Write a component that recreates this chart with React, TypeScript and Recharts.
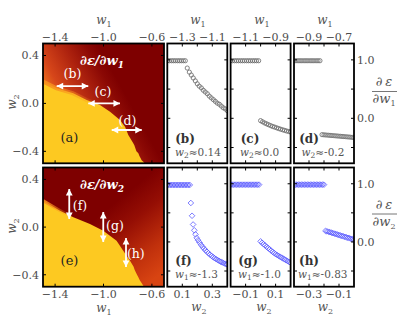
import React from 'react';
import { ComposedChart, Area, Scatter, XAxis, YAxis } from 'recharts';

const W = 399;
const H = 332;
const SERIF = "'DejaVu Serif', 'Liberation Serif', serif";
const TICK_FILL = '#4d4d4d';
const LABEL_FILL = '#555555';
const TL = 3;
const YELLOW = '#fdc921';

// ---------------- data ----------------
const heatW1Range = [-1.5, -0.5];
const heatW2Range = [-0.5, 0.5];
const heatW1Ticks = [-1.4, -1.0, -0.6];
const heatW2Ticks = [0.4, 0.0, -0.4];

// boundary of the yellow (value = 1) region, ∂ε/∂w1 map
const edgeA_w1 = [-1.5, -1.387, -1.25, -1.139, -1.029, -0.946, -0.864, -0.822, -0.795, -0.754, -0.745, -0.738, -0.728, -0.712, -0.703, -0.694, -0.685, -0.671, -0.66];
const edgeA_w2 = [0.183, 0.126, 0.084, 0.028, -0.013, -0.069, -0.139, -0.194, -0.264, -0.333, -0.35, -0.37, -0.4, -0.417, -0.44, -0.455, -0.475, -0.487, -0.5];
// boundary of the yellow region, ∂ε/∂w2 map
const edgeE_w1 = [-1.5, -1.359, -1.249, -1.112, -1.002, -0.892, -0.837, -0.781, -0.752, -0.742, -0.726, -0.712, -0.7, -0.685, -0.671, -0.665];
const edgeE_w2 = [0.222, 0.138, 0.082, 0.026, -0.03, -0.114, -0.198, -0.282, -0.33, -0.36, -0.394, -0.42, -0.445, -0.47, -0.492, -0.5];

// arrows marking the slices
const arrowB = { w1: [-1.387, -1.126], w2: [0.145, 0.145] };
const arrowC = { w1: [-1.126, -0.864], w2: [0.0, 0.0] };
const arrowD = { w1: [-0.932, -0.684], w2: [-0.222, -0.222] };
const arrowF = { w1: [-1.283, -1.283], w2: [0.32, 0.068] };
const arrowG = { w1: [-1.002, -1.002], w2: [0.127, -0.125] };
const arrowH = { w1: [-0.814, -0.814], w2: [-0.091, -0.335] };

const sliceYTicks = [-0.5, 0.0, 0.5, 1.0];
const sliceYLabels = [0.0, 1.0];
const sliceYRange = [-0.77, 1.28];

const sliceB_ticks = [-1.3, -1.2, -1.1];
const sliceB_labels = [-1.3, -1.1];
const sliceC_ticks = [-1.1, -1.0, -0.9];
const sliceC_labels = [-1.1, -0.9];
const sliceD_ticks = [-0.9, -0.8, -0.7];
const sliceD_labels = [-0.9, -0.7];
const sliceF_ticks = [0.1, 0.2, 0.3];
const sliceF_labels = [0.1, 0.3];
const sliceG_ticks = [-0.1, 0.0, 0.1];
const sliceG_labels = [-0.1, 0.1];
const sliceH_ticks = [-0.3, -0.2, -0.1];
const sliceH_labels = [-0.3, -0.1];

const sliceB_w1 = [-1.4, -1.387, -1.373, -1.36, -1.347, -1.333, -1.32, -1.307, -1.293, -1.28, -1.267, -1.253, -1.24, -1.227, -1.213, -1.2, -1.187, -1.173, -1.16, -1.147, -1.133, -1.12, -1.107, -1.093, -1.08, -1.067, -1.053, -1.04, -1.027, -1.013, -1.0];
const sliceB_val = [0.985, 0.985, 0.985, 0.985, 0.985, 0.985, 0.985, 0.985, 0.985, 0.985, 0.86, 0.79, 0.74, 0.69, 0.64, 0.59, 0.55, 0.52, 0.48, 0.45, 0.42, 0.38, 0.35, 0.32, 0.29, 0.26, 0.24, 0.21, 0.18, 0.16, 0.13];

const sliceC_w1 = [-1.2, -1.187, -1.173, -1.16, -1.147, -1.133, -1.12, -1.107, -1.093, -1.08, -1.067, -1.053, -1.04, -1.027, -1.013, -1.0, -0.987, -0.973, -0.96, -0.947, -0.933, -0.92, -0.907, -0.893, -0.88, -0.867, -0.853, -0.84, -0.827, -0.813, -0.8];
const sliceC_val = [0.985, 0.985, 0.985, 0.985, 0.985, 0.985, 0.985, 0.985, 0.985, 0.985, 0.985, 0.985, 0.985, 0.985, 0.985, -0.04, -0.06, -0.08, -0.095, -0.11, -0.125, -0.14, -0.15, -0.163, -0.175, -0.186, -0.197, -0.207, -0.217, -0.226, -0.235];

const sliceD_w1 = [-1.0, -0.987, -0.973, -0.96, -0.947, -0.933, -0.92, -0.907, -0.893, -0.88, -0.867, -0.853, -0.84, -0.827, -0.813, -0.8, -0.787, -0.773, -0.76, -0.747, -0.733, -0.72, -0.707, -0.693, -0.68, -0.667, -0.653, -0.64, -0.627, -0.613, -0.6];
const sliceD_val = [0.985, 0.985, 0.985, 0.985, 0.985, 0.985, 0.985, 0.985, 0.985, 0.985, 0.985, 0.985, 0.985, 0.985, -0.28, -0.283, -0.286, -0.289, -0.292, -0.295, -0.298, -0.301, -0.304, -0.307, -0.31, -0.313, -0.316, -0.319, -0.322, -0.326, -0.33];

const sliceF_w2 = [0.0, 0.01, 0.02, 0.03, 0.04, 0.05, 0.06, 0.07, 0.08, 0.09, 0.1, 0.11, 0.12, 0.13, 0.14, 0.15, 0.157, 0.165, 0.172, 0.18, 0.188, 0.196, 0.205, 0.215, 0.225, 0.235, 0.245, 0.255, 0.265, 0.275, 0.285, 0.295, 0.305, 0.315, 0.325, 0.335, 0.345, 0.355, 0.365, 0.375, 0.385, 0.395, 0.4];
const sliceF_val = [0.98, 0.98, 0.98, 0.98, 0.98, 0.98, 0.98, 0.98, 0.98, 0.98, 0.98, 0.98, 0.98, 0.98, 0.98, 0.98, 0.67, 0.45, 0.3, 0.2, 0.13, 0.07, 0.03, -0.01, -0.05, -0.085, -0.115, -0.145, -0.17, -0.195, -0.22, -0.24, -0.26, -0.28, -0.295, -0.31, -0.325, -0.34, -0.35, -0.365, -0.375, -0.385, -0.39];

const sliceG_w2 = [-0.2, -0.19, -0.18, -0.17, -0.16, -0.15, -0.14, -0.13, -0.12, -0.11, -0.1, -0.09, -0.08, -0.07, -0.06, -0.05, -0.04, -0.03, -0.02, -0.01, 0.0, 0.01, 0.02, 0.03, 0.04, 0.05, 0.06, 0.07, 0.08, 0.09, 0.1, 0.11, 0.12, 0.13, 0.14, 0.15, 0.16, 0.17, 0.18, 0.19, 0.2];
const sliceG_val = [0.985, 0.985, 0.985, 0.985, 0.985, 0.985, 0.985, 0.985, 0.985, 0.985, 0.985, 0.985, 0.985, 0.985, 0.985, 0.985, 0.985, 0.985, 0.985, 0.985, 0.01, -0.015, -0.04, -0.06, -0.085, -0.105, -0.125, -0.15, -0.17, -0.19, -0.21, -0.225, -0.24, -0.255, -0.27, -0.285, -0.3, -0.315, -0.33, -0.345, -0.36];

const sliceH_w2 = [-0.4, -0.39, -0.38, -0.37, -0.36, -0.35, -0.34, -0.33, -0.32, -0.31, -0.3, -0.29, -0.28, -0.27, -0.26, -0.25, -0.24, -0.23, -0.22, -0.21, -0.2, -0.19, -0.18, -0.17, -0.16, -0.15, -0.14, -0.13, -0.12, -0.11, -0.1, -0.09, -0.08, -0.07, -0.06, -0.05, -0.04, -0.03, -0.02, -0.01, 0.0];
const sliceH_val = [0.985, 0.985, 0.985, 0.985, 0.985, 0.985, 0.985, 0.985, 0.985, 0.985, 0.985, 0.985, 0.985, 0.985, 0.985, 0.985, 0.985, 0.985, 0.985, 0.985, 0.985, 0.19, 0.182, 0.175, 0.167, 0.159, 0.151, 0.143, 0.135, 0.127, 0.119, 0.111, 0.103, 0.095, 0.087, 0.079, 0.071, 0.063, 0.055, 0.047, 0.04];

// ---------------- helpers ----------------
type Box = { left: number; right: number; top: number; bottom: number };
const BOX_A: Box = { left: 43, right: 164, top: 43.5, bottom: 163.3 };
const BOX_E: Box = { left: 43, right: 164, top: 167.5, bottom: 286.7 };
const COLS = [
  { left: 167.3, right: 227.3 },
  { left: 230.6, right: 290.6 },
  { left: 294, right: 354 },
];
const TOP = { top: 43.5, bottom: 163.3 };
const BOT = { top: 167.5, bottom: 286.7 };
const BOX_B: Box = { ...COLS[0], ...TOP };
const BOX_C: Box = { ...COLS[1], ...TOP };
const BOX_D: Box = { ...COLS[2], ...TOP };
const BOX_F: Box = { ...COLS[0], ...BOT };
const BOX_G: Box = { ...COLS[1], ...BOT };
const BOX_H: Box = { ...COLS[2], ...BOT };

const zip = (xs: number[], ys: number[]) => xs.map((x, i) => ({ x, y: ys[i] }));
const fmt = (v: number) => {
  const s = Math.abs(v).toFixed(1);
  return v < -1e-9 ? '\u2212' + s : s;
};
const has = (arr: number[], v: number) => arr.some((a) => Math.abs(a - v) < 1e-9);

const arrowData = (a: { w1: number[]; w2: number[] }) => {
  const horiz = a.w2[0] === a.w2[1];
  return [
    { x: a.w1[0], y: a.w2[0], dir: horiz ? 'left' : 'up' },
    { x: a.w1[1], y: a.w2[1], dir: horiz ? 'right' : 'down' },
  ];
};

const arrowHead = (p: any) => {
  const { cx, cy } = p;
  const dir = p.payload?.dir;
  const L = 6.5;
  const Wd = 3.4;
  let pts: number[][];
  if (dir === 'left') pts = [[cx, cy], [cx + L, cy - Wd], [cx + L, cy + Wd]];
  else if (dir === 'right') pts = [[cx, cy], [cx - L, cy - Wd], [cx - L, cy + Wd]];
  else if (dir === 'up') pts = [[cx, cy], [cx - Wd, cy + L], [cx + Wd, cy + L]];
  else pts = [[cx, cy], [cx - Wd, cy - L], [cx + Wd, cy - L]];
  return <polygon points={pts.map((q) => q.join(',')).join(' ')} fill="#ffffff" />;
};

const circleShape = (p: any) => (
  <circle cx={p.cx} cy={p.cy} r={2.1} fill="none" stroke="#6e6e6e" strokeWidth={0.85} />
);
const diamondShape = (p: any) => {
  const r = 2.8;
  return (
    <path
      d={`M${p.cx},${p.cy - r}L${p.cx + r},${p.cy}L${p.cx},${p.cy + r}L${p.cx - r},${p.cy}Z`}
      fill="none"
      stroke="#5a5aff"
      strokeWidth={0.8}
    />
  );
};

type PanelProps = {
  box: Box;
  xDomain: number[];
  yDomain: number[];
  xTicks: number[];
  xLabels: number[];
  xSide: 'top' | 'bottom';
  yTicks: number[];
  yLabels: number[];
  ySide: 'left' | 'right' | 'none';
  children?: React.ReactNode;
};

function Panel({ box, xDomain, yDomain, xTicks, xLabels, xSide, yTicks, yLabels, ySide, children }: PanelProps) {
  // axes take 1px each (a 0-sized axis is not drawn), so the margins leave room for that pixel
  const margin = {
    top: xSide === 'top' ? box.top - 1 : box.top,
    bottom: xSide === 'bottom' ? H - box.bottom - 1 : H - box.bottom,
    left: box.left - 1,
    right: W - box.right,
  };
  const xTick = (p: any) => {
    const v = p.payload.value;
    const x = p.x;
    return (
      <g>
        <line x1={x} x2={x} y1={box.top} y2={box.top + TL} stroke="#000" strokeWidth={1} />
        <line x1={x} x2={x} y1={box.bottom} y2={box.bottom - TL} stroke="#000" strokeWidth={1} />
        {has(xLabels, v) && (
          <text
            x={x}
            y={xSide === 'top' ? box.top - 3 : box.bottom + 11}
            textAnchor="middle"
            fontFamily={SERIF}
            fontSize={11}
            fill={TICK_FILL}
          >
            {fmt(v)}
          </text>
        )}
      </g>
    );
  };
  const yTick = (p: any) => {
    const v = p.payload.value;
    const y = p.y;
    return (
      <g>
        <line x1={box.left} x2={box.left + TL} y1={y} y2={y} stroke="#000" strokeWidth={1} />
        <line x1={box.right} x2={box.right - TL} y1={y} y2={y} stroke="#000" strokeWidth={1} />
        {ySide !== 'none' && has(yLabels, v) && (
          <text
            x={ySide === 'left' ? box.left - 4 : box.right + 3}
            y={y + 4}
            textAnchor={ySide === 'left' ? 'end' : 'start'}
            fontFamily={SERIF}
            fontSize={11}
            fill={TICK_FILL}
          >
            {fmt(v)}
          </text>
        )}
      </g>
    );
  };
  return (
    <div style={{ position: 'absolute', left: 0, top: 0 }}>
      <ComposedChart width={W} height={H} margin={margin}>
        {children}
        <XAxis
          type="number"
          dataKey="x"
          domain={xDomain}
          ticks={xTicks}
          interval={0}
          orientation={xSide}
          height={1}
          tickSize={0}
          tickMargin={0}
          axisLine={false}
          tickLine={false}
          tick={xTick}
          allowDataOverflow
        />
        <YAxis
          type="number"
          dataKey="y"
          domain={yDomain}
          ticks={yTicks}
          interval={0}
          width={1}
          tickSize={0}
          tickMargin={0}
          axisLine={false}
          tickLine={false}
          tick={yTick}
          allowDataOverflow
        />
      </ComposedChart>
    </div>
  );
}

const bgRect = [
  { x: heatW1Range[0], y: heatW2Range[1] },
  { x: heatW1Range[1], y: heatW2Range[1] },
];

function Heat({ which }: { which: 'a' | 'e' }) {
  const isA = which === 'a';
  const box = isA ? BOX_A : BOX_E;
  const edge = isA ? zip(edgeA_w1, edgeA_w2) : zip(edgeE_w1, edgeE_w2);
  const arrows = isA ? [arrowB, arrowC, arrowD] : [arrowF, arrowG, arrowH];
  return (
    <Panel
      box={box}
      xDomain={heatW1Range}
      yDomain={heatW2Range}
      xTicks={heatW1Ticks}
      xLabels={heatW1Ticks}
      xSide={isA ? 'top' : 'bottom'}
      yTicks={heatW2Ticks}
      yLabels={heatW2Ticks}
      ySide="left"
    >
      <defs>
        {isA ? (
          <linearGradient id="bgA" gradientUnits="userSpaceOnUse" x1={44} y1={84} x2={102} y2={52}>
            <stop offset="0" stopColor="#ea6e1e" />
            <stop offset="0.18" stopColor="#d6461a" />
            <stop offset="0.55" stopColor="#ad220e" />
            <stop offset="0.85" stopColor="#8a0804" />
            <stop offset="1" stopColor="#7e0000" />
          </linearGradient>
        ) : (
          <linearGradient id="bgE" gradientUnits="userSpaceOnUse" x1={112} y1={205} x2={165} y2={270}>
            <stop offset="0" stopColor="#7e0000" />
            <stop offset="0.3" stopColor="#950e04" />
            <stop offset="0.7" stopColor="#c0300c" />
            <stop offset="1" stopColor="#d84412" />
          </linearGradient>
        )}
        <linearGradient
          id={isA ? 'edA' : 'edE'}
          gradientUnits="userSpaceOnUse"
          x1={43}
          y1={0}
          x2={isA ? 100 : 72}
          y2={0}
        >
          <stop offset="0" stopColor="#f8901e" stopOpacity={1} />
          <stop offset="1" stopColor="#f8901e" stopOpacity={0} />
        </linearGradient>
      </defs>
      <Area
        data={bgRect}
        dataKey="y"
        type="linear"
        baseValue={heatW2Range[0]}
        fill={isA ? 'url(#bgA)' : 'url(#bgE)'}
        fillOpacity={1}
        stroke="none"
        dot={false}
        activeDot={false}
        isAnimationActive={false}
      />
      <Area
        data={edge}
        dataKey="y"
        type="linear"
        baseValue={heatW2Range[0]}
        fill={YELLOW}
        fillOpacity={1}
        stroke={isA ? 'url(#edA)' : 'url(#edE)'}
        strokeWidth={isA ? 4 : 3}
        dot={false}
        activeDot={false}
        isAnimationActive={false}
      />
      {arrows.map((a, i) => (
        <Scatter
          key={i}
          data={arrowData(a)}
          line={{ stroke: '#ffffff', strokeWidth: 1.8 }}
          shape={arrowHead}
          isAnimationActive={false}
        />
      ))}
    </Panel>
  );
}

function Slice({
  box,
  xDomain,
  xTicks,
  xLabels,
  xSide,
  ySide,
  data,
  kind,
}: {
  box: Box;
  xDomain: number[];
  xTicks: number[];
  xLabels: number[];
  xSide: 'top' | 'bottom';
  ySide: 'right' | 'none';
  data: { x: number; y: number }[];
  kind: 'circle' | 'diamond';
}) {
  return (
    <Panel
      box={box}
      xDomain={xDomain}
      yDomain={sliceYRange}
      xTicks={xTicks}
      xLabels={xLabels}
      xSide={xSide}
      yTicks={sliceYTicks}
      yLabels={sliceYLabels}
      ySide={ySide}
    >
      <Scatter data={data} shape={kind === 'circle' ? circleShape : diamondShape} isAnimationActive={false} />
    </Panel>
  );
}

const Wvar = ({ sub, subSize = 8, drop = 2.5 }: { sub: string; subSize?: number; drop?: number }) => (
  <>
    <tspan fontStyle="italic">w</tspan>
    <tspan fontSize={subSize} dy={drop}>
      {sub}
    </tspan>
  </>
);

function Overlay() {
  const frames = [BOX_A, BOX_E, BOX_B, BOX_C, BOX_D, BOX_F, BOX_G, BOX_H];
  const txt = { fontFamily: SERIF, fill: LABEL_FILL } as const;
  const axTop = [104, 198, 262, 325];
  const axBot = [199, 264, 325.5];
  const sliceLab = [
    { x: 185, y: 142.5, t: '(b)' },
    { x: 250, y: 142.5, t: '(c)' },
    { x: 309, y: 142.5, t: '(d)' },
    { x: 183.5, y: 265, t: '(f)' },
    { x: 248, y: 265, t: '(g)' },
    { x: 309, y: 265, t: '(h)' },
  ];
  const sliceVal = [
    { x: 175, y: 156, s: '2', t: '\u22480.14' },
    { x: 240, y: 156, s: '2', t: '\u22480.0' },
    { x: 301.5, y: 156, s: '2', t: '\u2248-0.2' },
    { x: 175, y: 278, s: '1', t: '\u2248-1.3' },
    { x: 238, y: 278, s: '1', t: '\u2248-1.0' },
    { x: 298, y: 278, s: '1', t: '\u2248-0.83' },
  ];
  const heatLab = [
    { x: 72.5, y: 77.5, t: '(b)' },
    { x: 103, y: 96, t: '(c)' },
    { x: 127.5, y: 124.5, t: '(d)' },
    { x: 80, y: 210, t: '(f)' },
    { x: 115, y: 230, t: '(g)' },
    { x: 135.8, y: 258, t: '(h)' },
  ];
  return (
    <svg width={W} height={H} style={{ position: 'absolute', left: 0, top: 0 }}>
      {frames.map((b, i) => (
        <rect
          key={i}
          x={b.left}
          y={b.top}
          width={b.right - b.left}
          height={b.bottom - b.top}
          fill="none"
          stroke="#000"
          strokeWidth={1.8}
        />
      ))}
      {axTop.map((x, i) => (
        <text key={'at' + i} x={x} y={24} textAnchor="middle" fontSize={12} {...txt}>
          <Wvar sub="1" />
        </text>
      ))}
      <text x={104} y={312} textAnchor="middle" fontSize={12} {...txt}>
        <Wvar sub="1" />
      </text>
      {axBot.map((x, i) => (
        <text key={'ab' + i} x={x} y={311} textAnchor="middle" fontSize={12} {...txt}>
          <Wvar sub="2" />
        </text>
      ))}
      <text x={16} y={102} textAnchor="middle" fontSize={12} transform="rotate(-90 16 102)" {...txt}>
        <Wvar sub="2" />
      </text>
      <text x={16} y={226} textAnchor="middle" fontSize={12} transform="rotate(-90 16 226)" {...txt}>
        <Wvar sub="2" />
      </text>

      {/* right-hand fraction labels */}
      <text x={384} y={86} textAnchor="middle" fontSize={13} fontStyle="italic" {...txt}>
        {'\u2202\u2009\u03b5'}
      </text>
      <line x1={372} x2={397} y1={91.5} y2={91.5} stroke="#777" strokeWidth={1} />
      <text x={384} y={103} textAnchor="middle" fontSize={13} {...txt}>
        <tspan fontStyle="italic">{'\u2202'}</tspan>
        <Wvar sub="1" />
      </text>
      <text x={384} y={208.5} textAnchor="middle" fontSize={13} fontStyle="italic" {...txt}>
        {'\u2202\u2009\u03b5'}
      </text>
      <line x1={372} x2={397} y1={214} y2={214} stroke="#777" strokeWidth={1} />
      <text x={384} y={226} textAnchor="middle" fontSize={13} {...txt}>
        <tspan fontStyle="italic">{'\u2202'}</tspan>
        <Wvar sub="2" />
      </text>

      {/* heatmap titles */}
      <text x={80} y={65} fontSize={13} fontWeight="bold" fontStyle="italic" fontFamily={SERIF} fill="#fff">
        {'\u2202\u03b5/\u2202w'}
        <tspan fontSize={9} dy={2.5}>1</tspan>
      </text>
      <text x={80} y={189} fontSize={13} fontWeight="bold" fontStyle="italic" fontFamily={SERIF} fill="#fff">
        {'\u2202\u03b5/\u2202w'}
        <tspan fontSize={9} dy={2.5}>2</tspan>
      </text>
      <text x={69.5} y={142} textAnchor="middle" fontSize={13} fontFamily={SERIF} fill="#222">
        (a)
      </text>
      <text x={69.5} y={265} textAnchor="middle" fontSize={13} fontFamily={SERIF} fill="#222">
        (e)
      </text>
      {heatLab.map((l, i) => (
        <text key={'hl' + i} x={l.x} y={l.y} textAnchor="middle" fontSize={12.5} fontFamily={SERIF} fill="#fff">
          {l.t}
        </text>
      ))}
      {sliceLab.map((l, i) => (
        <text key={'sl' + i} x={l.x} y={l.y} textAnchor="middle" fontSize={12} fontWeight="bold" fontFamily={SERIF} fill="#333">
          {l.t}
        </text>
      ))}
      {sliceVal.map((l, i) => (
        <text key={'sv' + i} x={l.x} y={l.y} fontSize={10.5} {...txt}>
          <Wvar sub={l.s} subSize={7.5} drop={2} />
          <tspan dy={-2}>{l.t}</tspan>
        </text>
      ))}
    </svg>
  );
}

export default function App() {
  return (
    <div
      style={{
        position: 'absolute',
        left: 0,
        top: 0,
        width: W,
        height: H,
        background: '#fff',
        overflow: 'hidden',
      }}
    >
      <Heat which="a" />
      <Heat which="e" />
      <Slice box={BOX_B} xDomain={[-1.4, -1.0]} xTicks={sliceB_ticks} xLabels={sliceB_labels} xSide="top" ySide="none" data={zip(sliceB_w1, sliceB_val)} kind="circle" />
      <Slice box={BOX_C} xDomain={[-1.2, -0.8]} xTicks={sliceC_ticks} xLabels={sliceC_labels} xSide="top" ySide="none" data={zip(sliceC_w1, sliceC_val)} kind="circle" />
      <Slice box={BOX_D} xDomain={[-1.0, -0.6]} xTicks={sliceD_ticks} xLabels={sliceD_labels} xSide="top" ySide="right" data={zip(sliceD_w1, sliceD_val)} kind="circle" />
      <Slice box={BOX_F} xDomain={[0.0, 0.4]} xTicks={sliceF_ticks} xLabels={sliceF_labels} xSide="bottom" ySide="none" data={zip(sliceF_w2, sliceF_val)} kind="diamond" />
      <Slice box={BOX_G} xDomain={[-0.2, 0.2]} xTicks={sliceG_ticks} xLabels={sliceG_labels} xSide="bottom" ySide="none" data={zip(sliceG_w2, sliceG_val)} kind="diamond" />
      <Slice box={BOX_H} xDomain={[-0.4, 0.0]} xTicks={sliceH_ticks} xLabels={sliceH_labels} xSide="bottom" ySide="right" data={zip(sliceH_w2, sliceH_val)} kind="diamond" />
      <Overlay />
    </div>
  );
}
